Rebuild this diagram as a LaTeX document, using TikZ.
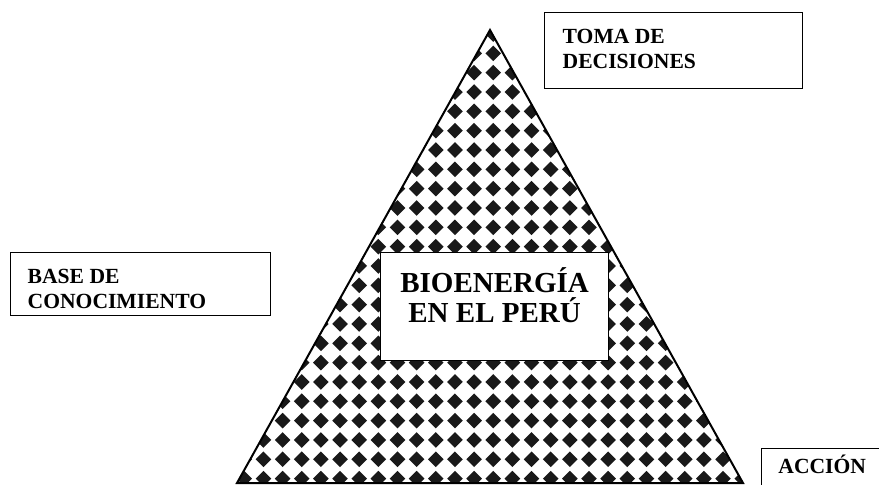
\documentclass[tikz,border=0pt]{standalone}
\usepackage{fontspec}
\setmainfont{Liberation Serif}
\tikzset{
  boxnode/.style={draw=black, line width=1.4pt, fill=white, inner sep=0pt},
  sidefont/.style={font=\fontsize{21.6}{25}\selectfont\bfseries},
  bigfont/.style={font=\fontsize{29}{30}\selectfont\bfseries},
  diamondfill/.style={fill=black!90},
}
\begin{document}
\begin{tikzpicture}[x=1pt,y=-1pt]
\useasboundingbox (0,0) rectangle (879,485);
\fill[white] (0,0) rectangle (879,485);
% pattern inside the triangle
\begin{scope}
  \clip (237,483) -- (490,30) -- (743,483) -- cycle;
  \foreach \i in {-14,...,14} {
    \foreach \j in {-6,...,18} {
      \fill[diamondfill] ({474.1+19.15*\i-7.8},{150+19.33*\j})
        -- ({474.1+19.15*\i},{150+19.33*\j-7.8})
        -- ({474.1+19.15*\i+7.8},{150+19.33*\j})
        -- ({474.1+19.15*\i},{150+19.33*\j+7.8}) -- cycle;
    }
  }
\end{scope}
\coordinate (apex) at (490,30);
\coordinate (bl) at (237,483);
\coordinate (br) at (743,483);
\draw[line width=2pt, line join=miter] (bl) -- (apex) -- (br) -- cycle;

% boxes
\node[boxnode, sidefont, minimum width=258pt, minimum height=76pt, anchor=north west]
  (toma) at (544,12) {\begin{tabular}{@{}p{222pt}@{}}TOMA DE\\DECISIONES\end{tabular}};
\node[boxnode, sidefont, minimum width=260pt, minimum height=63pt, anchor=north west]
  (base) at (10,252) {\raisebox{-7pt}[\height][\depth]{\begin{tabular}{@{}p{226pt}@{}}BASE DE\\CONOCIMIENTO\end{tabular}}};
\node[boxnode, bigfont, line width=1.2pt, minimum width=228pt, minimum height=108pt, anchor=north west]
  (centre) at (380,252) {\raisebox{5pt}[\height][\depth]{\begin{tabular}{@{}c@{}}\smash{BIOENERGÍA}\\\smash{EN EL PERÚ}\end{tabular}}};
\begin{scope}
  \clip (0,0) rectangle (879,485);
  \node[boxnode, sidefont, minimum width=121pt, minimum height=50pt, text height=15pt, text depth=15pt, anchor=north west]
    (accion) at (761,448) {ACCIÓN};
\end{scope}
\end{tikzpicture}
\end{document}
